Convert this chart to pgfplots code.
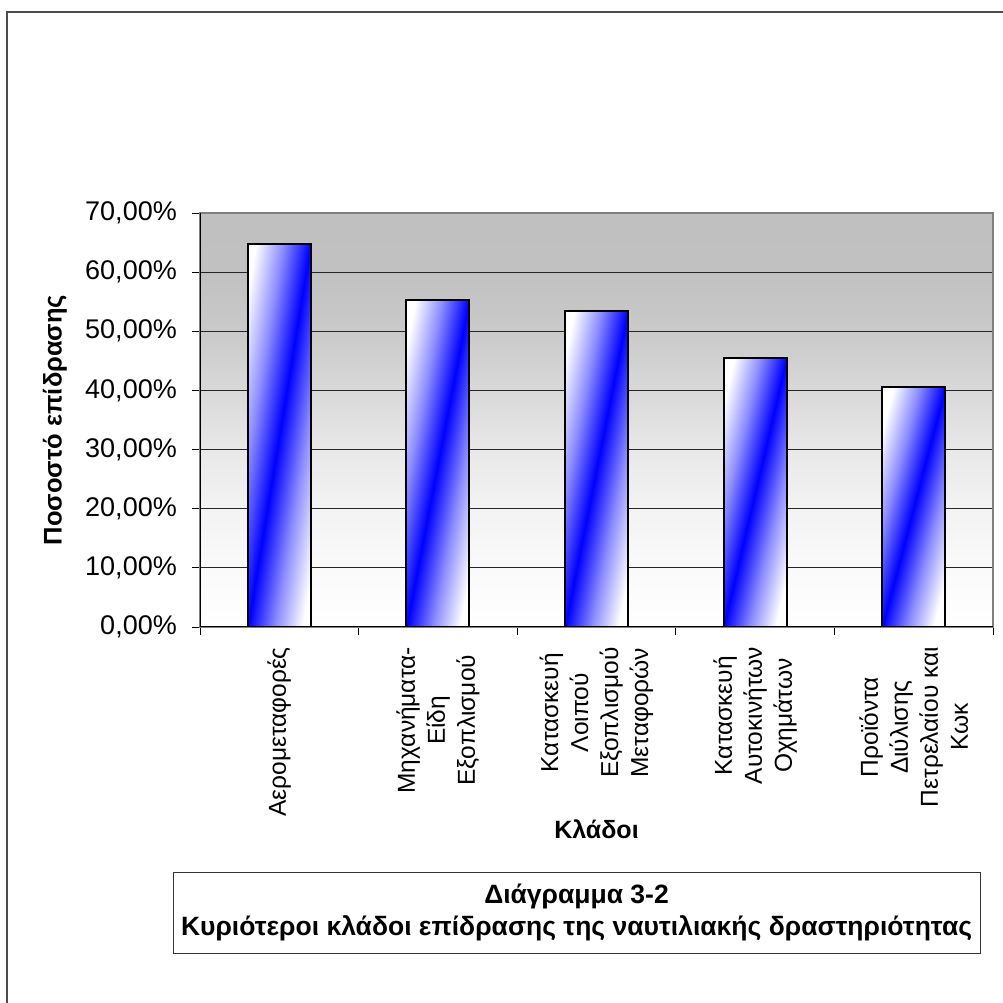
\documentclass[border=0pt]{standalone}
\usepackage{pgfplots}
\pgfplotsset{compat=1.18}
\usepackage{fontspec}
\setmainfont{Liberation Sans}
\pgfdeclarehorizontalshading{barshade}{100bp}{rgb(0bp)=(1,1,1); rgb(25bp)=(1,1,1); rgb(37.5bp)=(0.55,0.55,1); rgb(50bp)=(0,0,1); rgb(62.5bp)=(0.55,0.55,1); rgb(75bp)=(1,1,1); rgb(100bp)=(1,1,1)}
\pgfdeclareverticalshading{bgshade}{100bp}{rgb(0bp)=(1,1,1); rgb(25bp)=(1,1,1); rgb(32.1bp)=(0.98,0.98,0.98); rgb(39.3bp)=(0.953,0.953,0.953); rgb(46.4bp)=(0.91,0.91,0.91); rgb(53.6bp)=(0.85,0.85,0.85); rgb(60.7bp)=(0.79,0.79,0.79); rgb(67.9bp)=(0.757,0.757,0.757); rgb(75bp)=(0.753,0.753,0.753); rgb(100bp)=(0.753,0.753,0.753)}
\pgfplotsset{mybar/.style={ybar, bar width=63pt, draw=black, line width=2pt, shade, shading=barshade, shading angle=#1}}
\begin{document}
\begin{tikzpicture}[x=1pt,y=1pt]
\useasboundingbox (0,0) rectangle (1003,1003);
\draw[line width=1.5pt, black!70] (7,-20) -- (7,991) -- (1030,991);
\begin{axis}[
  at={(200pt,376pt)}, anchor=south west,
  scale only axis, width=793pt, height=414pt,
  xmin=0, xmax=5, ymin=0, ymax=70,
  axis background/.style={shade, shading=bgshade},
  axis line style={draw=black!50, line width=1.2pt},
  tick pos=left, tick align=outside, major tick length=8pt,
  tick style={black, line width=0.8pt},
  xtick={0,1,2,3,4,5}, x tick label as interval,
  xticklabels={Αερομεταφορές,{Μηχανήματα-\\Είδη\\Εξοπλισμού},{Κατασκευή\\Λοιπού\\Εξοπλισμού\\Μεταφορών},{Κατασκευή\\Αυτοκινήτων\\Οχημάτων},{Προϊόντα\\Διύλισης\\Πετρελαίου και\\Κωκ}},
  xticklabel style={font=\fontsize{24.5}{30}\selectfont, yshift=-12pt, rotate=90, anchor=east, align=center, inner sep=0pt},
  ytick={0,10,20,30,40,50,60,70},
  yticklabels={{0,00\%},{10,00\%},{20,00\%},{30,00\%},{40,00\%},{50,00\%},{60,00\%},{70,00\%}},
  yticklabel style={font=\fontsize{27}{30}\selectfont, inner sep=0pt, xshift=-15pt},
  ymajorgrids, major grid style={black!85, line width=0.9pt},
  ylabel={Ποσοστό επίδρασης},
  ylabel style={font=\bfseries\fontsize{25.5}{28}\selectfont, at={(axis description cs:-0.183,0.5)}, anchor=center},
  xlabel={Κλάδοι},
  xlabel style={font=\bfseries\fontsize{25}{28}\selectfont, at={(axis description cs:0.5,-0.488)}, anchor=center},
]
\addplot[mybar=-9.34] coordinates {(0.5,64.8)};
\addplot[mybar=-10.9] coordinates {(1.5,55.3)};
\addplot[mybar=-11.26] coordinates {(2.5,53.5)};
\addplot[mybar=-13.21] coordinates {(3.5,45.4)};
\addplot[mybar=-14.74] coordinates {(4.5,40.5)};
\draw[black, line width=1pt] (rel axis cs:0,1) -- (rel axis cs:0,0) -- (rel axis cs:1,0);
\end{axis}
\node[draw=black!80, line width=0.8pt, minimum width=807pt, minimum height=81pt, align=center, inner sep=0pt, font=\bfseries\fontsize{26.5}{32}\selectfont] at (576.5,90.5) {Διάγραμμα 3-2\\Κυριότεροι κλάδοι επίδρασης της ναυτιλιακής δραστηριότητας};
\end{tikzpicture}
\end{document}
